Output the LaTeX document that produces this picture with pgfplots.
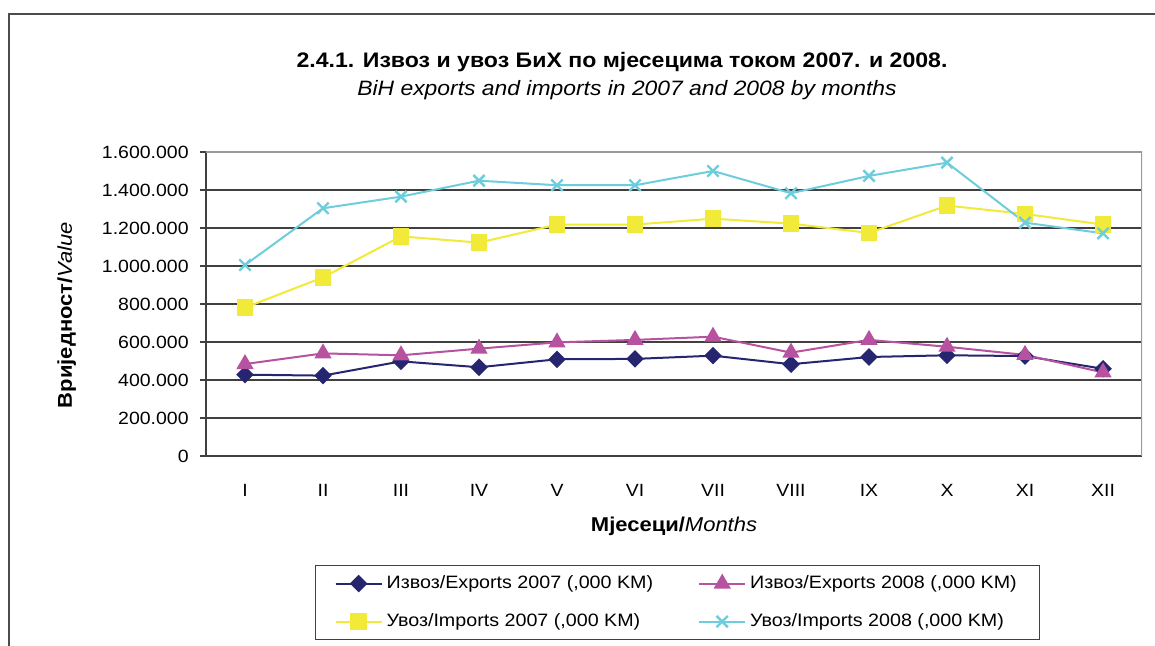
\documentclass[border=0pt]{standalone}
\usepackage{fontspec}
\setmainfont{Liberation Sans}[FakeStretch=1.1]
\usepackage{pgfplots}
\pgfplotsset{compat=1.18}
\definecolor{cNavy}{RGB}{38,38,112}
\definecolor{cMag}{RGB}{183,82,160}
\definecolor{cYel}{RGB}{242,234,56}
\definecolor{cCyan}{RGB}{110,205,220}
\begin{document}
\begin{tikzpicture}
\useasboundingbox (0,0) rectangle (577.5pt,323pt);
\fill[white] (0,0) rectangle (577.5pt,323pt);
\draw[black!70, line width=1pt] (4.5pt,0) -- (4.5pt,316pt) -- (577.5pt,316pt);
\node[font=\fontsize{10.5}{12}\selectfont\bfseries] at (311pt,292pt) {2.4.1. Извоз и увоз БиХ по мјесецима током 2007. и 2008.};
\node[font=\fontsize{10.4}{12}\selectfont\itshape] at (313.5pt,278pt) {BiH exports and imports in 2007 and 2008 by months};
\begin{axis}[
 at={(103pt,95pt)}, anchor=south west,
 scale only axis, width=468pt, height=152pt,
 xmin=0.5, xmax=12.5, ymin=0, ymax=1600000,
 xtick={1,...,12}, xticklabels={I,II,III,IV,V,VI,VII,VIII,IX,X,XI,XII},
 ytick={0,200000,...,1600000},
 yticklabels={0,200.000,400.000,600.000,800.000,1.000.000,1.200.000,1.400.000,1.600.000},
 scaled y ticks=false,
 axis x line*=bottom, axis y line*=left,
 axis line style={black!75, line width=1pt},
 xtick style={draw=none},
 ytick style={black!75, line width=0.6pt},
 tick align=outside, major tick length=3pt,
 ymajorgrids, grid style={black!75, line width=0.55pt},
 ticklabel style={font=\fontsize{8.85}{10}\selectfont},
 /pgf/number format/assume math mode=true,
 xticklabel style={anchor=base, yshift=-17.5pt},
 yticklabel style={anchor=east, inner sep=0pt, xshift=-5.5pt},
 xlabel={\textbf{Мјесеци/}\textit{Months}},
 ylabel={\textbf{Вриједност/}\textit{Value}},
 label style={font=\fontsize{9.4}{10}\selectfont},
 every axis x label/.style={at={(axis description cs:0.5,-0.23)}, anchor=center},
 every axis y label/.style={at={(axis description cs:-0.1488,0.4638)}, anchor=center, rotate=90},
 legend columns=2,
 legend cell align=left,
 legend style={at={(axis description cs:0.1165,-0.3586)}, anchor=north west,
   draw=black!75, line width=0.6pt, font=\fontsize{8.95}{10}\selectfont,
   inner xsep=9.5pt, inner ysep=3pt, row sep=7pt,
   /tikz/every even column/.append style={column sep=20.5pt}},
 legend image code/.code={
   \draw[#1] (0pt,0pt) -- (23pt,0pt);
   \draw[#1, mark repeat=2, mark phase=2] plot coordinates {(0pt,0pt) (11.5pt,0pt) (23pt,0pt)};},
 every axis plot/.append style={line width=1pt},
]
\addplot[cNavy, mark=square*, mark size=2.6pt, mark options={rotate=45, fill=cNavy, draw=cNavy}]
 coordinates {(1,428000) (2,423000) (3,498000) (4,467000) (5,509000) (6,511000) (7,528000) (8,483000) (9,521000) (10,530000) (11,526000) (12,459000)};
\addlegendentry{Извоз/Exports 2007 (,000 KM)}
\addplot[cMag, mark=triangle*, mark size=4pt, mark options={fill=cMag, draw=cMag}]
 coordinates {(1,484000) (2,540000) (3,530000) (4,565000) (5,598000) (6,611000) (7,628000) (8,544000) (9,611000) (10,575000) (11,532000) (12,440000)};
\addlegendentry{Извоз/Exports 2008 (,000 KM)}
\addplot[cYel, mark=square*, mark size=3.6pt, mark options={fill=cYel, draw=cYel}]
 coordinates {(1,781000) (2,940000) (3,1156000) (4,1123000) (5,1218000) (6,1218000) (7,1249000) (8,1223000) (9,1174000) (10,1318000) (11,1274000) (12,1218000)};
\addlegendentry{Увоз/Imports 2007 (,000 KM)}
\addplot[cCyan, mark=x, mark size=4pt, mark options={draw=cCyan, line width=1.2pt}]
 coordinates {(1,1005000) (2,1304000) (3,1365000) (4,1449000) (5,1425000) (6,1425000) (7,1500000) (8,1383000) (9,1474000) (10,1544000) (11,1228000) (12,1172000)};
\addlegendentry{Увоз/Imports 2008 (,000 KM)}
\draw[black!40, line width=1pt] (rel axis cs:0,1) -- (rel axis cs:1,1) -- (rel axis cs:1,0);
\end{axis}
\end{tikzpicture}
\end{document}
